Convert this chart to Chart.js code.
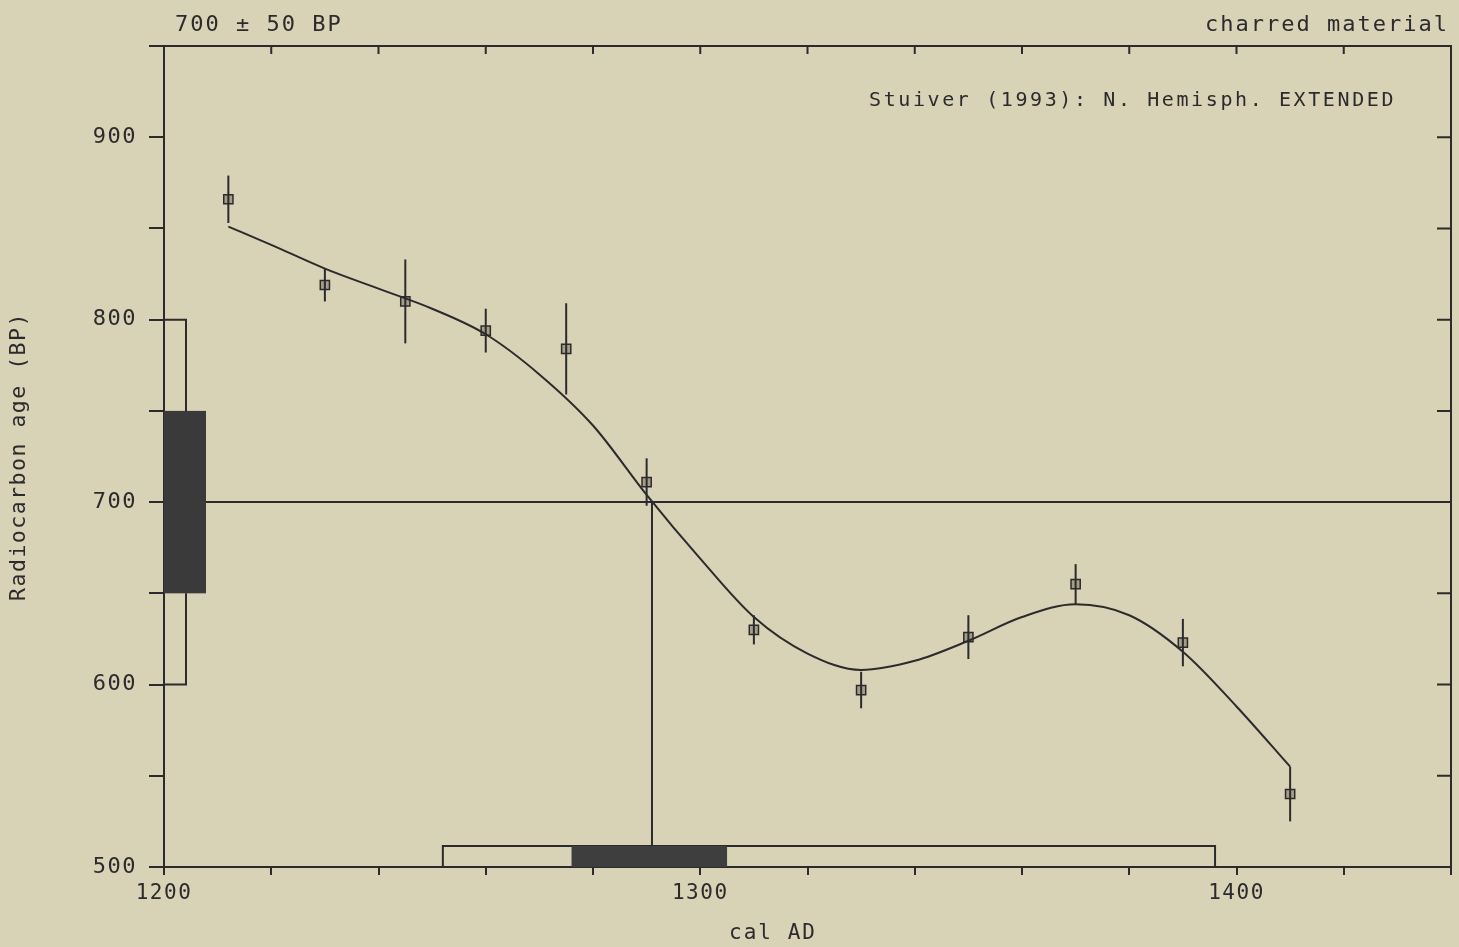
<!DOCTYPE html>
<html>
<head>
<meta charset="utf-8">
<script src="https://cdn.jsdelivr.net/npm/chart.js@4/dist/chart.umd.min.js"></script>
<style>
html, body { margin: 0; padding: 0; background: #d8d2b6; }
canvas { display: block; }
</style>
</head>
<body>
<canvas id="myChart" width="1459" height="947"></canvas>
<script>
// calibration data points with 1-sigma error bars
const sampleYears = [1212, 1230, 1245, 1260, 1275, 1290, 1310, 1330, 1350, 1370, 1390, 1410];
const sampleAges = [866, 819, 810, 794, 784, 711, 630, 597, 626, 655, 623, 540];
const sampleErrors = [13, 9, 23, 12, 25, 13, 8, 10, 12, 11, 13, 15];

// smoothed calibration curve
const curveYears = [1212, 1220, 1230, 1240, 1250, 1260, 1270, 1280, 1290, 1300, 1310, 1320, 1330, 1340, 1350, 1360, 1370, 1380, 1390, 1400, 1410];
const curveAges = [851, 841, 828, 817, 806, 792, 770, 742, 704, 669, 637, 617, 608, 613, 624, 637, 644, 638, 618, 588, 555];

// the measured sample
const measuredAge = 700;
const measuredError = 50;
const interceptYear = 1291;
const range1Sigma = [1276, 1305];
const range2Sigma = [1252, 1396];

const xTickLabels = [1200, 1300, 1400];
const yTickLabels = [500, 600, 700, 800, 900];

const ink = '#2b2b2b';
const paper = '#d8d2b6';
const monoFont = '"DejaVu Sans Mono", "Liberation Mono", monospace';

const errorBarSets = sampleYears.map((yr, i) => ({
	data: [{ x: yr, y: sampleAges[i] - sampleErrors[i] }, { x: yr, y: sampleAges[i] + sampleErrors[i] }],
	showLine: true,
	borderColor: ink,
	borderWidth: 2,
	pointRadius: 0
}));

const decorPlugin = {
	id: 'decor',
	beforeDraw(chart) {
		const ctx = chart.ctx;
		ctx.save();
		ctx.fillStyle = paper;
		ctx.fillRect(0, 0, chart.width, chart.height);
		ctx.restore();
		ctx.letterSpacing = '1.5px';
	},
	beforeDatasetsDraw(chart) {
		const ctx = chart.ctx;
		const xs = chart.scales.x, ys = chart.scales.y;
		const area = chart.chartArea;
		ctx.save();
		ctx.strokeStyle = ink;
		ctx.lineWidth = 2;

		// measured age box on the y axis
		const boxW = 42, brW = 22;
		const yTop1 = ys.getPixelForValue(measuredAge + measuredError);
		const yBot1 = ys.getPixelForValue(measuredAge - measuredError);
		const yTop2 = ys.getPixelForValue(measuredAge + 2 * measuredError);
		const yBot2 = ys.getPixelForValue(measuredAge - 2 * measuredError);
		ctx.fillStyle = '#3a3a3a';
		ctx.fillRect(area.left, yTop1, boxW, yBot1 - yTop1);
		ctx.beginPath();
		ctx.moveTo(area.left, yTop2);
		ctx.lineTo(area.left + brW, yTop2);
		ctx.lineTo(area.left + brW, yTop1);
		ctx.moveTo(area.left + brW, yBot1);
		ctx.lineTo(area.left + brW, yBot2);
		ctx.lineTo(area.left, yBot2);
		ctx.stroke();

		// horizontal line at measured age
		const yAge = ys.getPixelForValue(measuredAge);
		ctx.beginPath();
		ctx.moveTo(area.left + boxW, yAge);
		ctx.lineTo(area.right, yAge);
		ctx.stroke();

		// calibrated ranges on the x axis
		const boxH = 21;
		const bx0 = xs.getPixelForValue(range2Sigma[0]);
		const bx1 = xs.getPixelForValue(range2Sigma[1]);
		ctx.strokeRect(bx0, area.bottom - boxH, bx1 - bx0, boxH);
		const dx0 = xs.getPixelForValue(range1Sigma[0]);
		const dx1 = xs.getPixelForValue(range1Sigma[1]);
		ctx.fillStyle = '#3e3e3e';
		ctx.fillRect(dx0, area.bottom - boxH, dx1 - dx0, boxH);

		// intercept line
		const xi = xs.getPixelForValue(interceptYear);
		ctx.beginPath();
		ctx.moveTo(xi, yAge);
		ctx.lineTo(xi, area.bottom - boxH);
		ctx.stroke();

		// top & right frame with inward ticks
		ctx.beginPath();
		ctx.moveTo(area.left, area.top);
		ctx.lineTo(area.right, area.top);
		ctx.lineTo(area.right, area.bottom + 8);
		for (let yr = 1220; yr < 1440; yr += 20) {
			const px = xs.getPixelForValue(yr);
			ctx.moveTo(px, area.top);
			ctx.lineTo(px, area.top + 8);
		}
		for (let v = 550; v < 950; v += 50) {
			const py = ys.getPixelForValue(v);
			ctx.moveTo(area.right, py);
			ctx.lineTo(area.right - 14, py);
		}
		ctx.stroke();
		ctx.restore();
	},
	afterDraw(chart) {
		const ctx = chart.ctx;
		ctx.save();
		ctx.fillStyle = ink;
		ctx.textBaseline = 'middle';
		ctx.font = '22px ' + monoFont;
		ctx.letterSpacing = '2px';
		ctx.textAlign = 'left';
		ctx.fillText('700 ± 50 BP', 175, 25);
		ctx.textAlign = 'right';
		ctx.fillText('charred material', 1449, 25);
		ctx.font = '20px ' + monoFont;
		ctx.letterSpacing = '2.6px';
		ctx.textAlign = 'left';
		ctx.fillText('Stuiver (1993): N. Hemisph. EXTENDED', 869, 101);
		// x axis title sits a little left of centre in the original
		ctx.font = '21px ' + monoFont;
		ctx.letterSpacing = '2px';
		ctx.textAlign = 'center';
		ctx.fillText('cal AD', 773, 934);
		ctx.restore();
	}
};

var ctx = document.getElementById('myChart').getContext('2d');
var myChart = new Chart(ctx, {
	type: 'scatter',
	data: {
		datasets: [
			{
				data: curveYears.map((yr, i) => ({ x: yr, y: curveAges[i] })),
				showLine: true,
				cubicInterpolationMode: 'monotone',
				borderColor: ink,
				borderWidth: 2,
				pointRadius: 0
			},
			...errorBarSets,
			{
				data: sampleYears.map((yr, i) => ({ x: yr, y: sampleAges[i] })),
				pointStyle: 'rect',
				pointRadius: 6.5,
				borderColor: ink,
				borderWidth: 1.5,
				backgroundColor: '#a29e88'
			}
		]
	},
	options: {
		responsive: false,
		animation: false,
		layout: { padding: { top: 46, right: 6, left: 0, bottom: 0 } },
		plugins: {
			legend: { display: false },
			tooltip: { enabled: false }
		},
		scales: {
			x: {
				type: 'linear',
				min: 1200,
				max: 1440,
				afterFit: (scale) => { scale.height = 80; },
				ticks: {
					stepSize: 20,
					autoSkip: false,
					maxRotation: 0,
					padding: 6,
					color: ink,
					font: { family: monoFont, size: 21 },
					callback: (v) => xTickLabels.includes(v) ? String(v) : ''
				},
				grid: { drawOnChartArea: false, tickLength: 8, color: ink, lineWidth: 2 },
				border: { display: true, color: ink, width: 2 }
			},
			y: {
				min: 500,
				max: 950,
				afterFit: (scale) => { scale.width = 164; },
				ticks: {
					stepSize: 50,
					autoSkip: false,
					padding: 12,
					color: ink,
					font: { family: monoFont, size: 22 },
					callback: (v) => yTickLabels.includes(v) ? String(v) : ''
				},
				grid: { drawOnChartArea: false, tickLength: 15, color: ink, lineWidth: 2 },
				border: { display: true, color: ink, width: 2 },
				title: {
					display: true,
					text: 'Radiocarbon age (BP)',
					color: ink,
					padding: { bottom: 0, top: 7 },
					font: { family: monoFont, size: 21.5 }
				}
			}
		}
	},
	plugins: [decorPlugin]
});
</script>
</body>
</html>
